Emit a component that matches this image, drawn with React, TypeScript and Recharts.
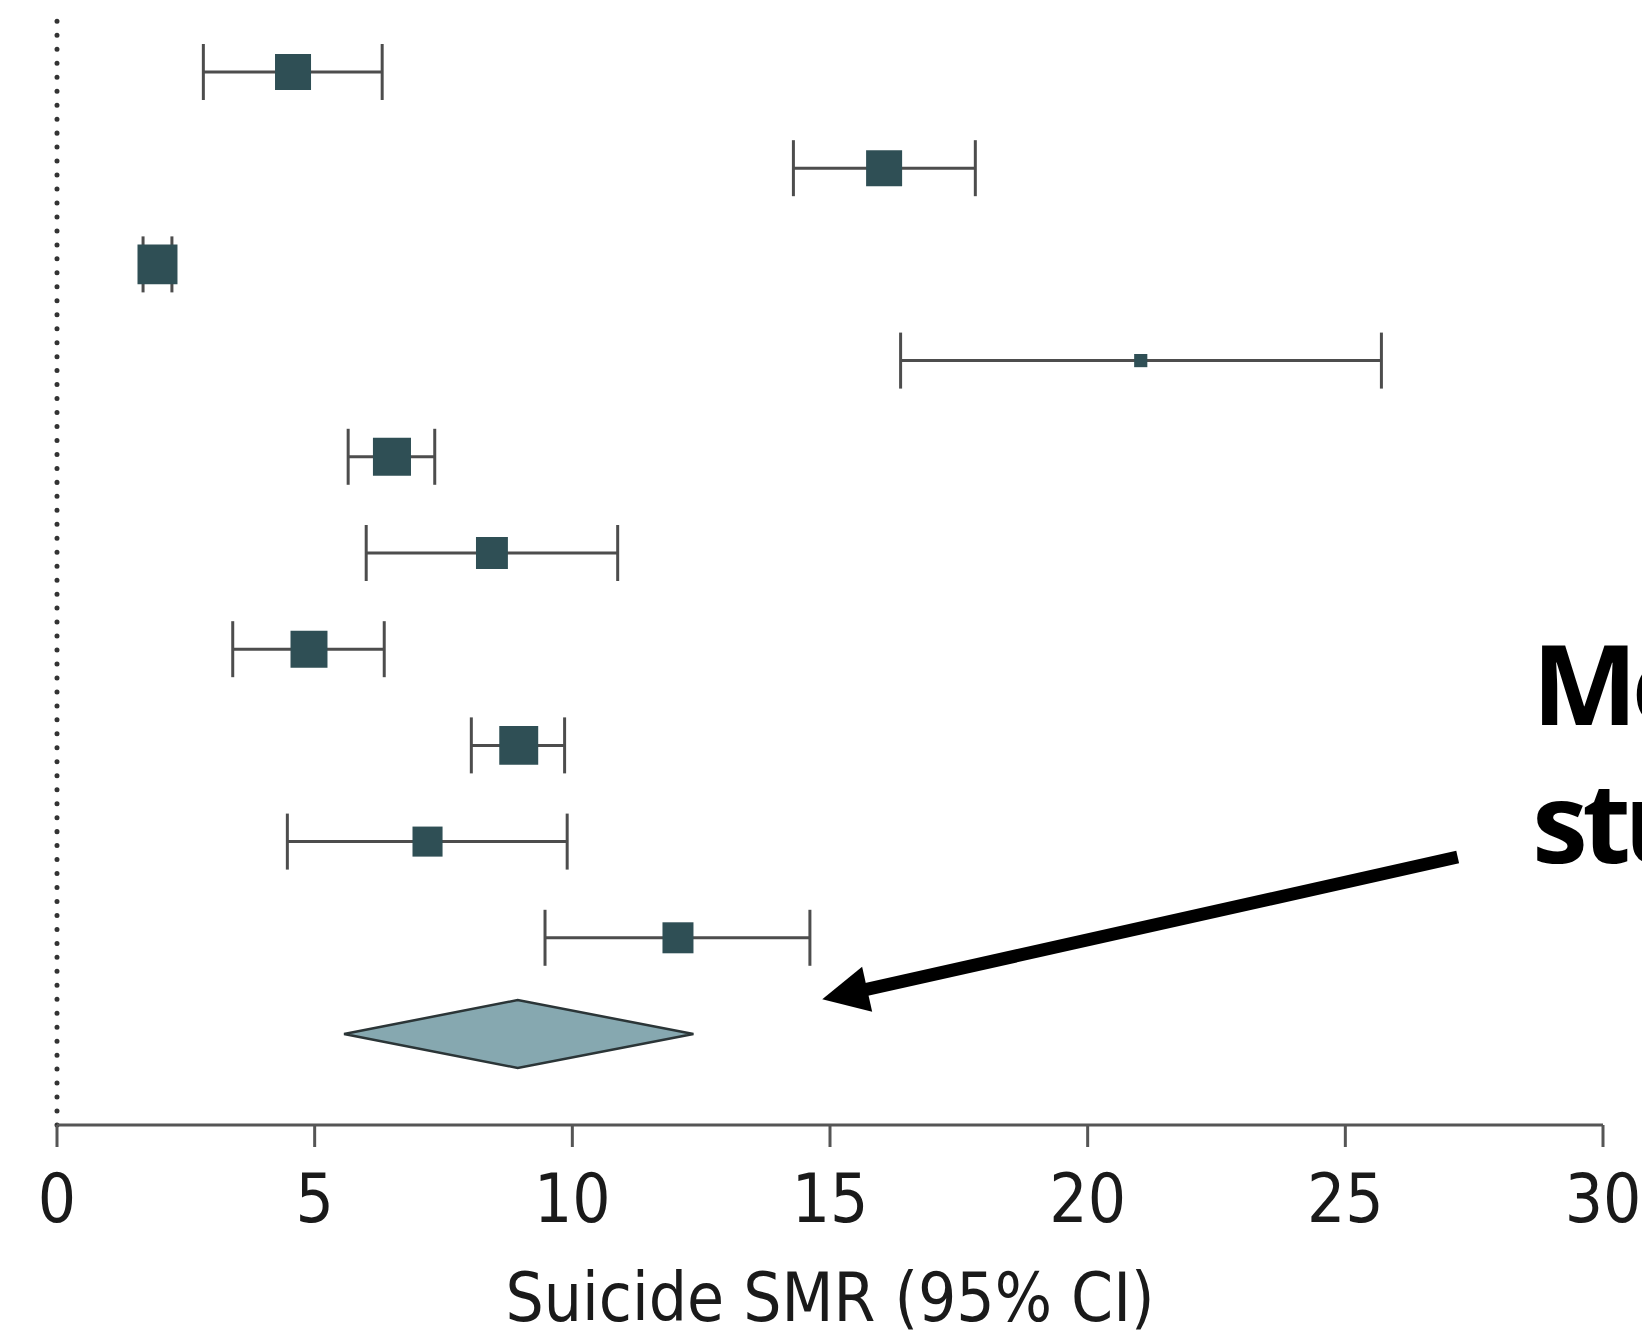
import { ScatterChart, Scatter, XAxis, YAxis, ZAxis, ErrorBar, ReferenceLine } from "recharts";

// forest plot rows, top to bottom
const rows = [1, 2, 3, 4, 5, 6, 7, 8, 9, 10];
const smr = [4.58, 16.05, 1.95, 21.03, 6.5, 8.44, 4.89, 8.96, 7.19, 12.05];
const ciLow = [2.84, 14.29, 1.67, 16.37, 5.65, 6.0, 3.41, 8.04, 4.47, 9.47];
const ciHigh = [6.31, 17.82, 2.23, 25.7, 7.33, 10.88, 6.35, 9.85, 9.9, 14.61];
const weights = [11.2, 11.2, 13.8, 1.5, 12.5, 8.8, 11.8, 13.1, 7.8, 8.3];

const pooledRow = 11;
const pooledSmr = 8.94;
const pooledLow = 5.57;
const pooledHigh = 12.35;

const xTicks = [0, 5, 10, 15, 20, 25, 30];
const axisTitle = "Suicide SMR (95% CI)";
const noteLines = ["Meta-analysis", "studies"];
// arrow from the note to the pooled estimate (data coords)
const arrowFrom = { x: 27.18, y: 9.16 };
const arrowTo = { x: 14.85, y: 10.64 };

const studies = rows.map((r, i) => ({
  x: smr[i],
  y: r,
  weight: weights[i],
  err: [smr[i] - ciLow[i], ciHigh[i] - smr[i]],
}));

const DIAMOND_HALF = 0.353;
const diamond = [
  { x: pooledLow, y: pooledRow },
  { x: pooledSmr, y: pooledRow - DIAMOND_HALF },
  { x: pooledHigh, y: pooledRow },
  { x: pooledSmr, y: pooledRow + DIAMOND_HALF },
];

const tickFont = "'DejaVu Sans Condensed', 'Liberation Sans Narrow', sans-serif";
const noteFont = "'Noto Sans'";

function Arrow(props: any) {
  const { x1, y1, x2, y2 } = props;
  const dx = x2 - x1;
  const dy = y2 - y1;
  const len = Math.sqrt(dx * dx + dy * dy);
  const ux = dx / len;
  const uy = dy / len;
  const head = 46;
  const half = 23;
  const bx = x2 - ux * head;
  const by = y2 - uy * head;
  const pts = [
    [x2, y2],
    [bx - uy * half, by + ux * half],
    [bx + uy * half, by - ux * half],
  ]
    .map((p) => p.join(","))
    .join(" ");
  return (
    <g>
      <line x1={x1} y1={y1} x2={bx + ux * 4} y2={by + uy * 4} stroke="#000" strokeWidth={13} />
      <polygon points={pts} fill="#000" />
    </g>
  );
}

export default function App() {
  return (
    <div style={{ position: "absolute", left: 0, top: 0, width: 1642, height: 1331, background: "#fff" }}>
      <ScatterChart width={1642} height={1331} margin={{ top: 21, right: 39, bottom: 0, left: 57 }}>
        <XAxis
          type="number"
          dataKey="x"
          domain={[0, 30]}
          ticks={xTicks}
          interval={0}
          allowDataOverflow
          height={206}
          tickSize={22}
          tickMargin={27}
          axisLine={{ stroke: "#555", strokeWidth: 3 }}
          tickLine={{ stroke: "#555", strokeWidth: 3 }}
          tick={{ fontSize: 67, fontFamily: tickFont, fill: "#1a1a1a" }}
          label={{
            value: axisTitle,
            position: "insideBottom",
            offset: 10,
            fontSize: 67,
            fontFamily: tickFont,
            fill: "#1a1a1a",
          }}
        />
        <YAxis type="number" dataKey="y" domain={[0.47, 11.946]} reversed hide allowDataOverflow />
        <ZAxis dataKey="weight" domain={[0, 100]} range={[0, 11580]} />
        <ReferenceLine
          x={0}
          stroke="#333"
          strokeWidth={5}
          strokeDasharray="0.01 13.96"
          strokeLinecap="round"
        />
        <Scatter
          data={diamond}
          isAnimationActive={false}
          line={{ fill: "#86a8b0", stroke: "#2b3537", strokeWidth: 2.5 }}
          lineJointType="linearClosed"
          shape={() => <g />}
          fill="#86a8b0"
        />
        <Scatter data={studies} isAnimationActive={false} shape="square" fill="#2f4f55">
          <ErrorBar dataKey="err" direction="x" width={28} stroke="#4d4d4d" strokeWidth={3} />
        </Scatter>
        <ReferenceLine segment={[arrowFrom, arrowTo]} ifOverflow="visible" shape={Arrow} />
        <text x={1532} y={725} fontSize={112} fontWeight="bold" fontFamily={noteFont} letterSpacing={-6} fill="#000">
          {noteLines[0]}
        </text>
        <text x={1532} y={863} fontSize={112} fontWeight="bold" fontFamily={noteFont} letterSpacing={-6} fill="#000">
          {noteLines[1]}
        </text>
      </ScatterChart>
    </div>
  );
}
